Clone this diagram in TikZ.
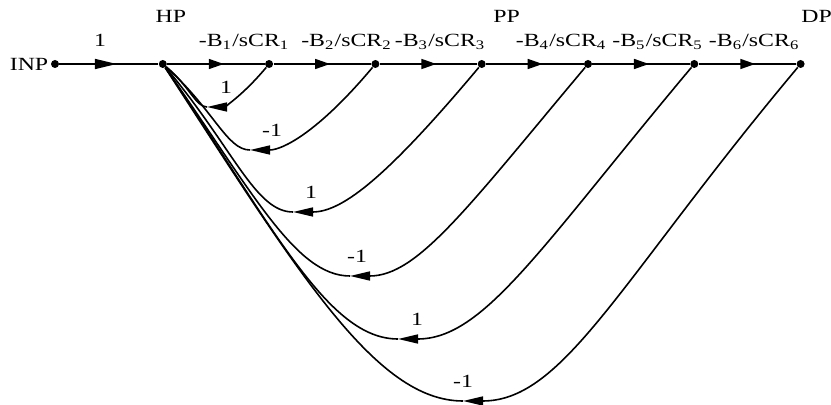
\documentclass[tikz,border=0pt]{standalone}
\usepackage{amsmath}
\usepackage{graphicx}
\usepackage{fontspec}
\setmainfont{Liberation Serif}
\usepackage{tikz}
\usetikzlibrary{arrows.meta, decorations.markings, positioning, calc}
\newcommand{\idx}[1]{$_{\text{#1}}$}
\newcommand{\wide}[1]{\scalebox{1.28}[1]{#1}}
\tikzset{
  dot/.style={circle, fill=black, inner sep=0pt, minimum size=4pt},
  tag/.style={inner sep=1pt},
  gain/.style={anchor=base, yshift=8.5pt},
  fbk/.style={anchor=base, yshift=6.5pt},
  fwd/.style={thick, postaction={decorate}, decoration={markings, mark=at position 0.58 with {\arrow{Triangle[length=#1, width=5pt]}}}},
  fwd/.default=7.5pt,
  back/.style={thick, -{Triangle[length=10pt, width=4.5pt]}}
}

\begin{document}
\begin{tikzpicture}[x=0.5pt, y=-0.5pt, every node/.style={font=\fontsize{9.3}{11}\selectfont}]
  \useasboundingbox (0,0) rectangle (831,405);
  % branch points
  \node[dot] (inp) at (55,64) {};
  \node[dot, right=49.5pt of inp] (hp) {};
  \node[dot, right=48.75pt of hp] (n1) {};
  \node[dot, right=48.75pt of n1] (n2) {};
  \node[dot, right=48.75pt of n2] (n3) {};
  \node[dot, right=48.75pt of n3] (n4) {};
  \node[dot, right=48.75pt of n4] (n5) {};
  \node[dot, right=48.75pt of n5] (n6) {};

  \node[tag, left=0pt of inp] (inptag) {\wide{INP}};
  \node[tag, anchor=base] (hptag) at ($(hp)+(8,-41)$) {\wide{HP}};
  \node[tag, anchor=base] (pptag) at ($(n3)+(25,-41)$) {\wide{PP}};
  \node[tag, inner sep=0pt, anchor=base] (dptag) at ($(n6)+(16,-41)$) {\wide{DP}};

  % forward path
  \draw[fwd=11pt] (inp) -- node[gain, pos=0.41] {\wide{1}} (hp);
  \draw[fwd] (hp) -- node[gain, pos=0.79] {\wide{-B\idx{1}/sCR\idx{1}}} (n1);
  \draw[fwd] (n1) -- node[gain, pos=0.75] {\wide{-B\idx{2}/sCR\idx{2}}} (n2);
  \draw[fwd] (n2) -- node[gain, pos=0.62] {\wide{-B\idx{3}/sCR\idx{3}}} (n3);
  \draw[fwd] (n3) -- node[gain, pos=0.77] {\wide{-B\idx{4}/sCR\idx{4}}} (n4);
  \draw[fwd] (n4) -- node[gain, pos=0.67] {\wide{-B\idx{5}/sCR\idx{5}}} (n5);
  \draw[fwd] (n5) -- node[gain, pos=0.57] {\wide{-B\idx{6}/sCR\idx{6}}} (n6);

  % feedback to HP
  \foreach \i/\bx/\by/\dx/\g/\ang in {1/207/107/19/1/-40, 2/250/150/22/-1/-42, 3/293/212/18/1/-50,
      4/350/276/7/-1/-55, 5/398/339/19/1/-56, 6/463/401/0/-1/-57}{
    \coordinate (b\i) at (\bx,\by);
    \draw[back] (n\i) to[out=230, in=0, out looseness=1.5, in looseness=0.55] (b\i);
    \draw[thick] (b\i) to[out=180, in=\ang, out looseness=0.5, in looseness=1.4] (hp);
    \node[fbk, xshift=\dx*0.5pt] (g\i) at (b\i) {\wide{\g}};
  }
\end{tikzpicture}
\end{document}
